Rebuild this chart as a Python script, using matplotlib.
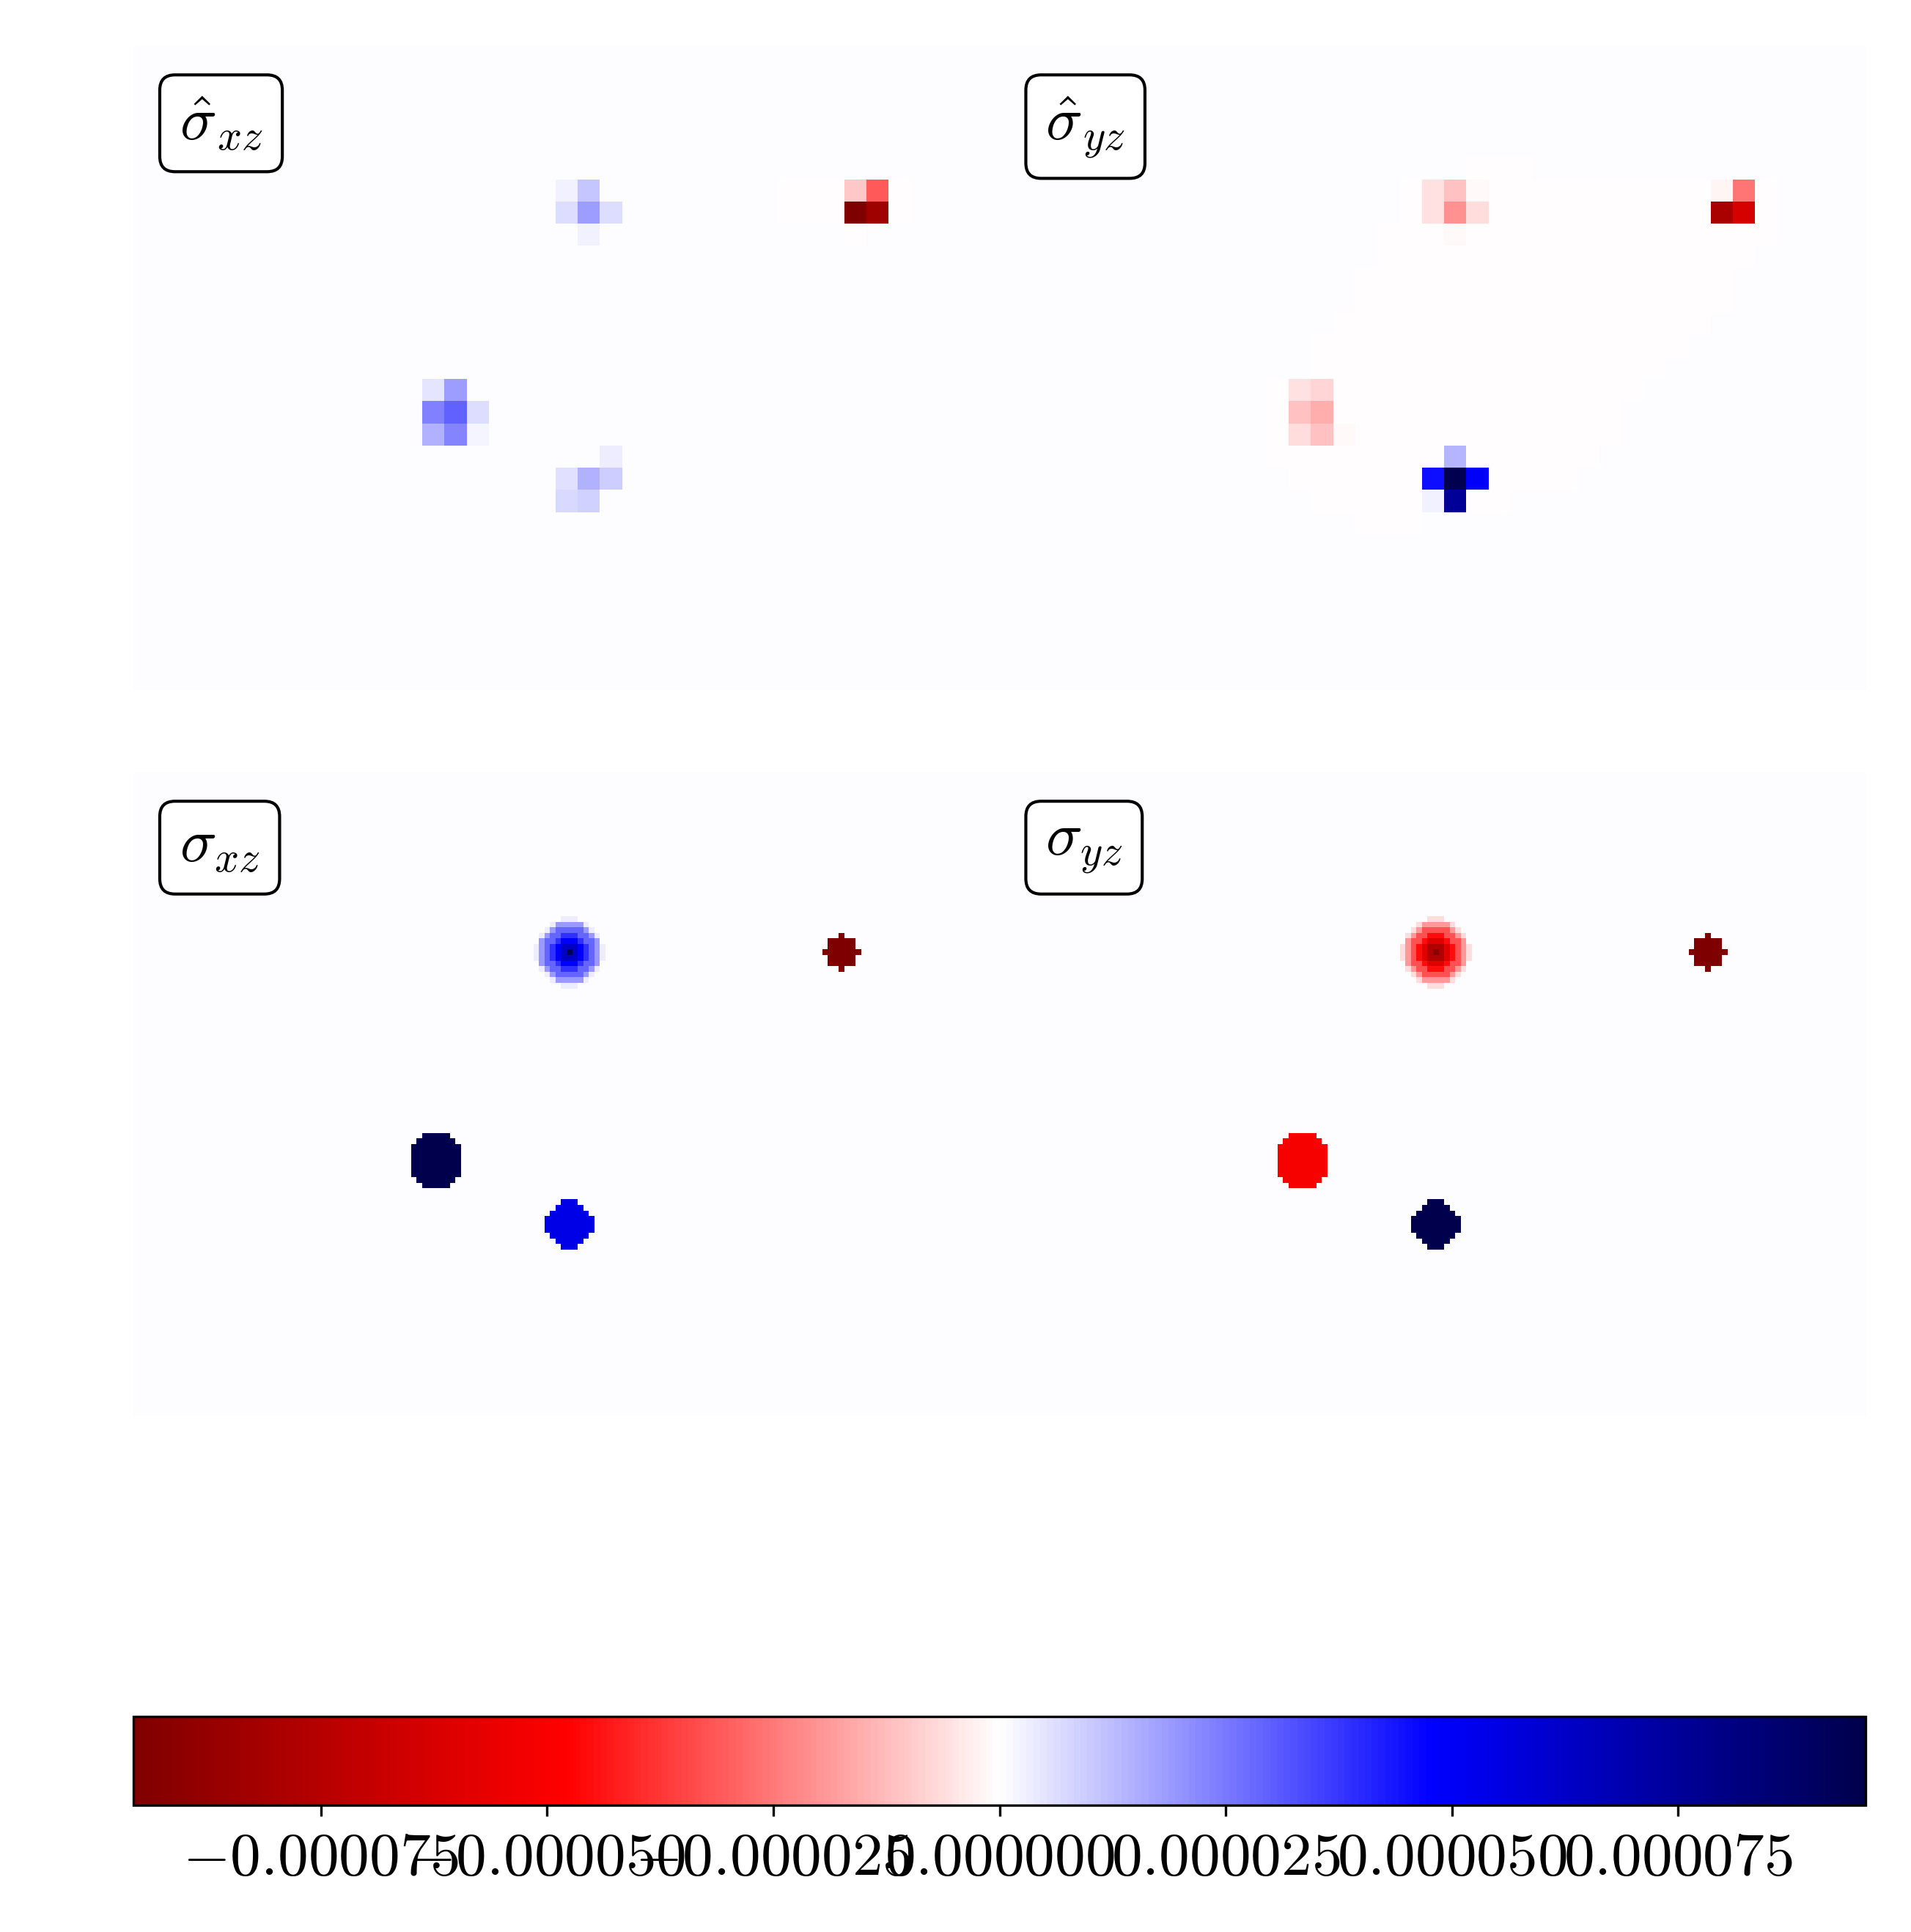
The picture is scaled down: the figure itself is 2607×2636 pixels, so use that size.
import numpy as np
import matplotlib
matplotlib.use("Agg")
import matplotlib.pyplot as plt
from matplotlib.colors import Normalize
from matplotlib.ticker import ScalarFormatter

plt.rcParams['font.family'] = 'serif'
plt.rcParams['font.serif'] = ['cmr10', 'DejaVu Serif']
plt.rcParams['mathtext.fontset'] = 'cm'
plt.rcParams['axes.formatter.use_mathtext'] = True
plt.rcParams['font.size'] = 20

# ---------------- data (values in units of 1e-5) ----------------
UNIT = 1e-5
VLIM = 9.57
CBAR_TICKS = [-7.5, -5.0, -2.5, 0.0, 2.5, 5.0, 7.5]

LO_SHAPE = (29, 39)     # rows, cols of estimated (coarse) fields
HI_SHAPE = (116, 156)   # rows, cols of true (fine) fields
BG_VALUE = 0.06
FAINT_NEG = -0.06

titles = [r'$\hat{\sigma}_{xz}$', r'$\hat{\sigma}_{yz}$', r'$\sigma_{xz}$', r'$\sigma_{yz}$']

# coarse cells: (row, col, value)
hat_xz_cells = [
    (6, 19, 0.24), (6, 20, 1.11),
    (7, 19, 0.62), (7, 20, 1.80), (7, 21, 0.62),
    (8, 20, 0.24),
    (6, 32, -0.99), (6, 33, -3.10),
    (7, 32, -9.55), (7, 33, -8.35),
    (15, 13, 0.47), (15, 14, 1.80),
    (16, 13, 2.38), (16, 14, 2.99), (16, 15, 0.62),
    (17, 13, 1.43), (17, 14, 2.25), (17, 15, 0.19),
    (18, 21, 0.32),
    (19, 19, 0.54), (19, 20, 1.43), (19, 21, 0.90),
    (20, 19, 0.69), (20, 20, 0.83),
]
hat_xz_faint = [(6, 29, 34), (7, 29, 34), (8, 32, 32)]

hat_yz_cells = [
    (6, 19, -0.53), (6, 20, -1.18), (6, 21, -0.13),
    (7, 19, -0.58), (7, 20, -2.03), (7, 21, -0.66),
    (8, 20, -0.12),
    (6, 32, -0.22), (6, 33, -2.57),
    (7, 32, -7.98), (7, 33, -6.29),
    (15, 13, -0.53), (15, 14, -0.75),
    (16, 13, -1.14), (16, 14, -1.50),
    (17, 13, -0.66), (17, 14, -1.14), (17, 15, -0.10),
    (18, 20, 1.37),
    (19, 19, 4.56), (19, 20, 9.47), (19, 21, 4.90),
    (20, 19, 0.28), (20, 20, 7.49),
]
# faint negative band: (row, first col, last col)
hat_yz_faint = [
    (5, 21, 23), (6, 18, 34), (7, 18, 34), (8, 17, 34), (9, 17, 33),
    (10, 16, 32), (11, 16, 32), (12, 15, 31), (13, 14, 30), (14, 14, 29),
    (15, 12, 28), (16, 12, 27), (17, 12, 27), (18, 12, 26), (19, 13, 25),
    (20, 14, 22), (21, 16, 18),
]

# fine fields: smooth blob (center row, center col) with ring values
BLOB_CENTER = (32, 78)
BLOB_RING_EDGES = [0.5, 1.5, 2.5, 3.5, 4.5, 5.5, 6.2]
xz_blob_rings = [9.34, 6.26, 4.80, 3.83, 2.87, 1.91, 0.32]
yz_blob_rings = [-9.10, -7.70, -5.95, -4.50, -3.28, -1.93, -0.60]

# flat disks: (center row, center col, radius in cells, value)
xz_disks = [(32, 127, 3.0, -10.0), (69.5, 54, 5.0, 10.0), (81, 78, 4.2, 5.4)]
yz_disks = [(32, 127, 3.0, -10.0), (69.5, 54, 5.0, -5.05), (81, 78, 4.2, 10.0)]


def build_coarse(cells, faint):
    g = np.full(LO_SHAPE, BG_VALUE)
    for r, c0, c1 in faint:
        g[r, c0:c1 + 1] = FAINT_NEG
    for r, c, v in cells:
        g[r, c] = v
    return g * UNIT


def build_fine(rings, disks):
    g = np.full(HI_SHAPE, BG_VALUE)
    rr, cc = np.mgrid[0:HI_SHAPE[0], 0:HI_SHAPE[1]]
    d = np.hypot(rr - BLOB_CENTER[0], cc - BLOB_CENTER[1])
    idx = np.searchsorted(BLOB_RING_EDGES, d)
    m = idx < len(rings)
    g[m] = np.asarray(rings)[idx[m]]
    for r0, c0, rad, v in disks:
        g[np.hypot(rr - r0, cc - c0) <= rad + 1e-9] = v
    return g * UNIT


fields = [
    build_coarse(hat_xz_cells, hat_xz_faint),
    build_coarse(hat_yz_cells, hat_yz_faint),
    build_fine(xz_blob_rings, xz_disks),
    build_fine(yz_blob_rings, yz_disks),
]

# ---------------- layout ----------------
FW, FH = 2607, 2636
fig = plt.figure(figsize=(FW / 300, FH / 300), dpi=300)

ax_w = 1181.5 / FW
ax_h = 878 / FH
lefts = [182 / FW, 1363.5 / FW]
bottoms = [1 - 941 / FH, 1 - 1932 / FH]

norm = Normalize(vmin=-VLIM * UNIT, vmax=VLIM * UNIT)
im = None
for i, (field, title) in enumerate(zip(fields, titles)):
    ax = fig.add_axes([lefts[i % 2], bottoms[i // 2], ax_w, ax_h])
    im = ax.imshow(field, cmap='seismic_r', norm=norm, aspect='auto',
                   interpolation='nearest')
    ax.set_axis_off()
    ax.text(0.053, 0.925, title, transform=ax.transAxes, ha='left', va='top',
            fontsize=20,
            bbox=dict(boxstyle='round,pad=0.32,rounding_size=0.25',
                      fc='white', ec='black', lw=1.0))

cax = fig.add_axes([182 / FW, 1 - 2463 / FH, 2363 / FW, 121 / FH])
fmt = ScalarFormatter(useMathText=True)
fmt.set_scientific(False)
fmt.set_useOffset(False)
cb = fig.colorbar(im, cax=cax, orientation='horizontal',
                  ticks=[t * UNIT for t in CBAR_TICKS], format=fmt)
cb.ax.tick_params(labelsize=20, pad=5.5)

fig.savefig('out.png', dpi=300)
